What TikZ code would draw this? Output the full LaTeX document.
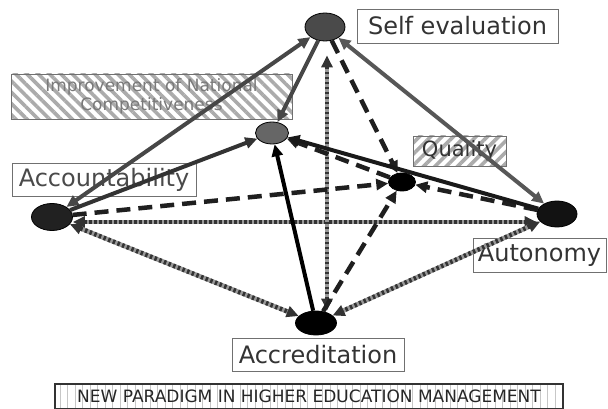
\documentclass[tikz,border=0pt]{standalone}
\usepackage{fontspec}
\setmainfont{DejaVu Sans}
\usetikzlibrary{shapes.geometric,arrows.meta,patterns.meta}

\definecolor{inkdark}{HTML}{333333}
\definecolor{inkmid}{HTML}{4A4A4A}
\definecolor{inkpale}{HTML}{7A7A7A}
\definecolor{framegray}{HTML}{707070}

\begin{document}
\begin{tikzpicture}[x=1pt,y=-1pt,
  >={Triangle[length=12pt,width=11pt]},
  hub/.style={ellipse, draw=black, line width=0.8pt, inner sep=0pt},
  tag/.style={draw=framegray, line width=0.8pt, fill=white, inner sep=0pt,
              text=inkdark, font=\fontsize{24}{28}\selectfont},
  hatchtag/.style={draw=framegray, line width=0.8pt, inner sep=0pt,
              pattern={Lines[angle=#1,distance=8pt,line width=3.6pt]},
              pattern color=black!33},
  solidln/.style={line width=4pt},
  dashln/.style={line width=4.5pt, draw=black!88, dash pattern=on 14pt off 8pt},
  stripeln/.style={line width=4.5pt, draw=inkdark, dash pattern=on 2.5pt off 2.5pt,
              preaction={draw=black!40, line width=4.5pt, solid, -,
                         shorten <=8pt, shorten >=8pt}},
]
\useasboundingbox (0,0) rectangle (608,409);
\clip (0,0) rectangle (608,409);
\fill[white] (0,0) rectangle (608,409);

% labels
\node[tag, minimum width=201pt, minimum height=34pt] (seL) at (457.5,26) {Self evaluation};
\node[tag, minimum width=184pt, minimum height=33pt, text=inkmid] (accL) at (104,179.5) {Accountability};
\node[tag, minimum width=133pt, minimum height=34pt] (autL) at (539.5,255) {Autonomy};
\node[tag, minimum width=172pt, minimum height=33pt] (acrL) at (318,354.5) {Accreditation};
\node[hatchtag=45, minimum width=93pt, minimum height=30pt, text=inkdark,
      font=\fontsize{21}{24}\selectfont] (quaL) at (459.5,151) {Quality};
\node[hatchtag=-45, minimum width=281pt, minimum height=45pt, text=inkpale, align=center,
      font=\fontsize{17}{19}\selectfont] (impL) at (151.5,96.5) {Improvement of National\\Competitiveness};

% footer banner
\node[draw=inkdark, line width=1.5pt, inner sep=0pt, minimum width=508pt, minimum height=25pt,
      pattern={Lines[angle=90,distance=7.5pt,line width=0.8pt]}, pattern color=black!22,
      text=black!85, font=\fontsize{17}{20}\selectfont] (banner) at (309,396.5)
      {\raisebox{-3pt}{NEW PARADIGM IN HIGHER EDUCATION MANAGEMENT}};

% hubs
\node[hub, fill=inkmid, minimum width=40pt, minimum height=28pt] (se) at (325,27) {};
\node[hub, fill=black!60, minimum width=33pt, minimum height=22pt] (imp) at (272,133) {};
\node[hub, fill=black, minimum width=27pt, minimum height=18pt] (qua) at (402,182) {};
\node[hub, fill=black!93, minimum width=40pt, minimum height=26pt] (aut) at (557,214) {};
\node[hub, fill=black!87, minimum width=41pt, minimum height=27pt] (acc) at (52,217) {};
\node[hub, fill=black, minimum width=41pt, minimum height=24pt] (acr) at (316,323) {};

\coordinate (vtop) at ([xshift=2pt,yshift=-14pt]se.south);

% striped links
\draw[stripeln, <->] ([yshift=-5pt]acc.east) -- ([yshift=-8pt]aut.west);
\draw[stripeln, <->] (acc) -- (acr);
\draw[stripeln, <->] (aut) -- (acr);
\draw[stripeln, <->] ([xshift=11pt]acr.north) -- (vtop);

% dashed links
\draw[dashln, ->] (se) -- (qua);
\draw[dashln, ->] (aut) -- (qua);
\draw[dashln, ->] (qua) -- (imp);
\draw[dashln, ->] (acc) -- (qua);
\draw[dashln, ->] (acr) -- (qua);

% solid links
\draw[solidln, draw=black!72, <->] (acc) -- (se);
\draw[solidln, draw=black!72, ->] (se) -- (imp);
\draw[solidln, draw=black!66, <->] (se) -- (aut);
\draw[solidln, draw=black!80, ->] (acc) -- (imp);
\draw[solidln, draw=black, ->] (acr) -- (imp);
\draw[solidln, draw=black!90, ->] (aut) -- (imp);
\end{tikzpicture}
\end{document}
